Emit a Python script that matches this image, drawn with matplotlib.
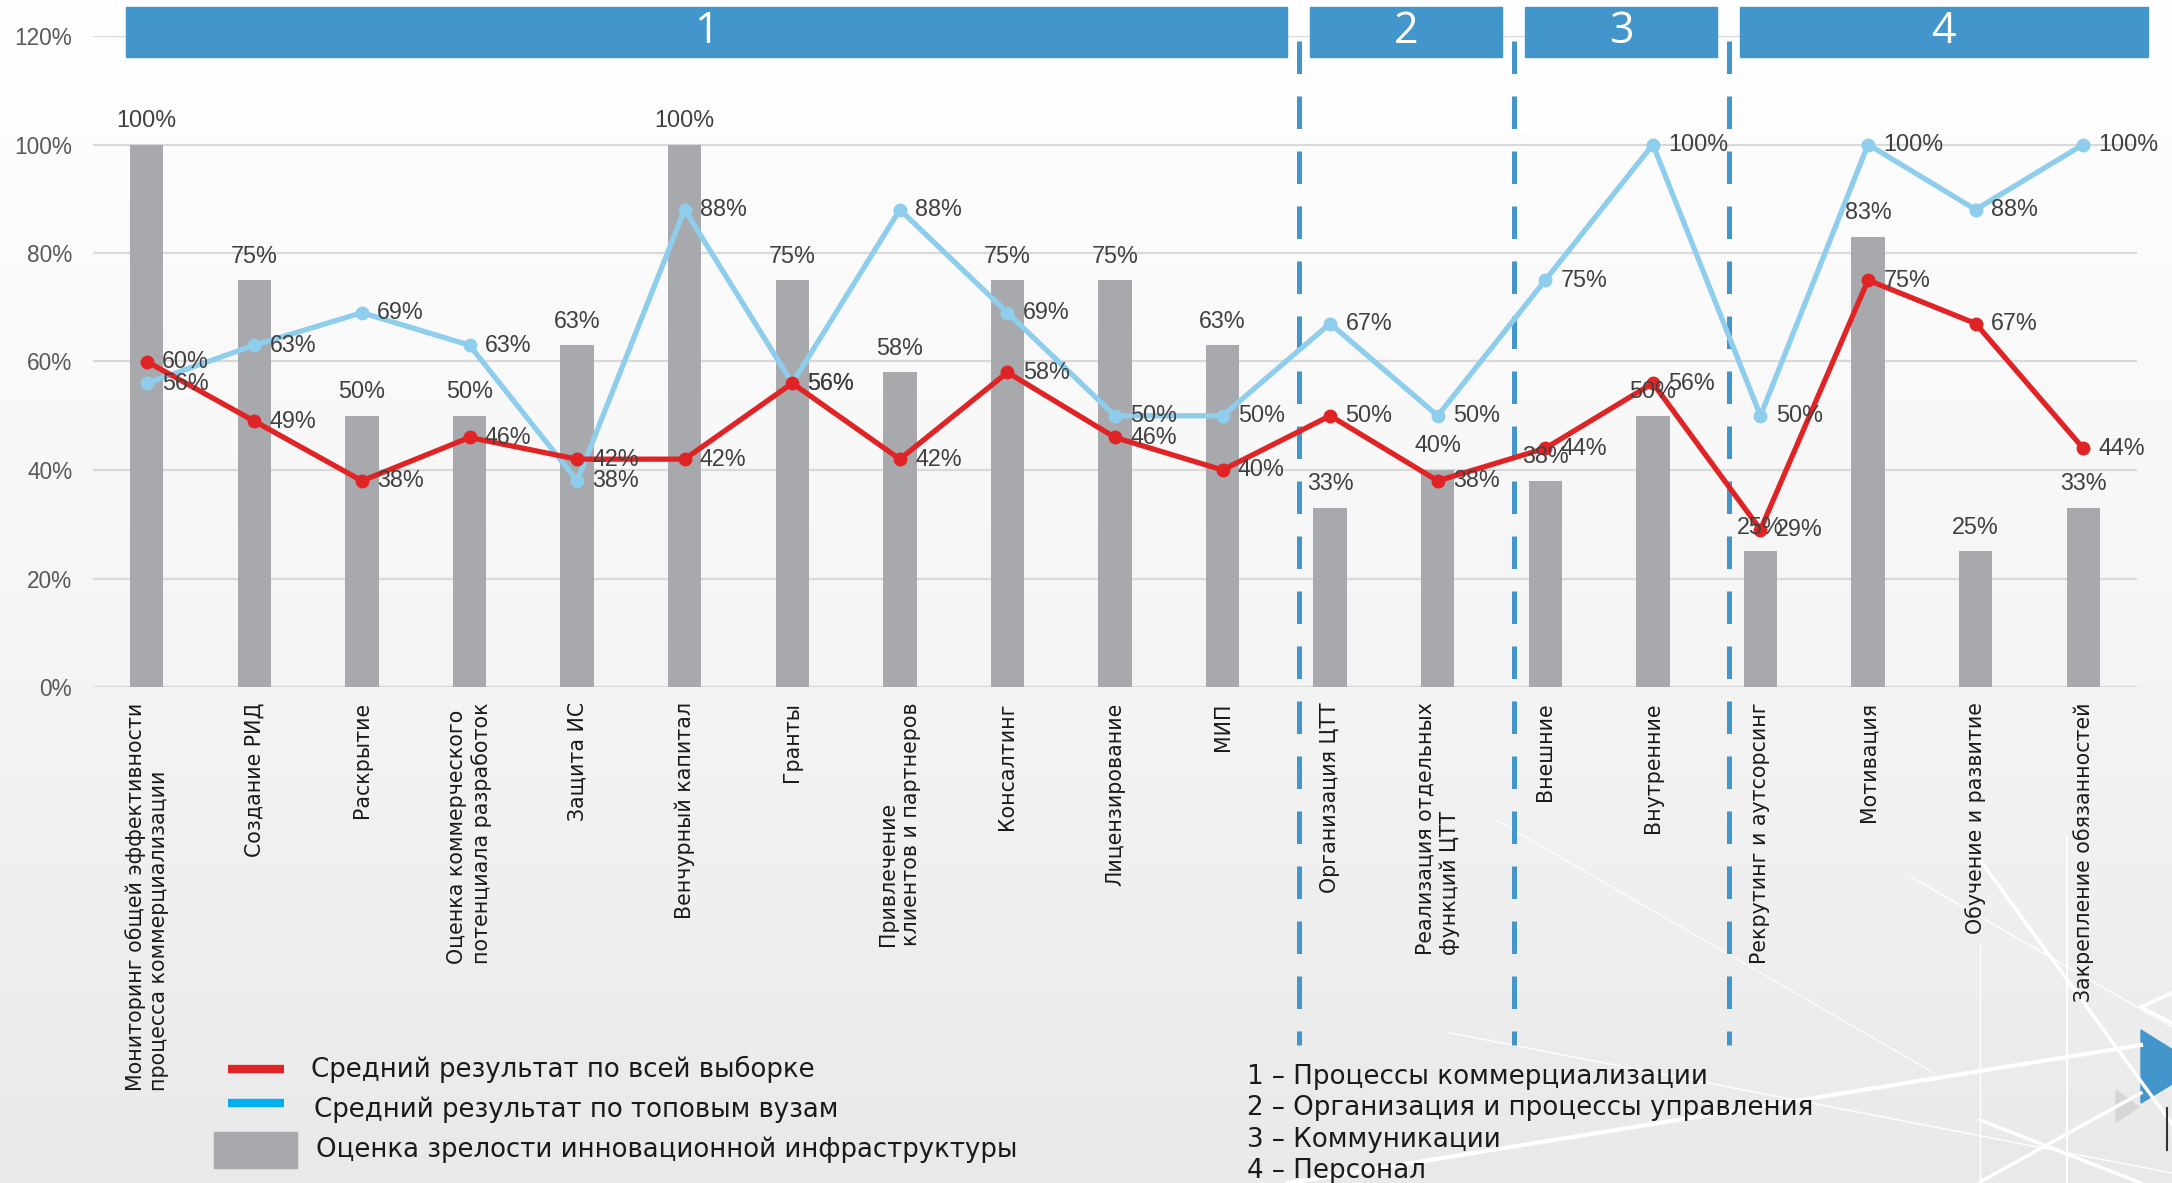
import numpy as np
import matplotlib.pyplot as plt
from matplotlib.colors import LinearSegmentedColormap
from matplotlib.lines import Line2D
from matplotlib.patches import Rectangle, Polygon

# Данные с графика
categories = [
    'Мониторинг общей эффективности\nпроцесса коммерциализации',
    'Создание РИД',
    'Раскрытие',
    'Оценка коммерческого\nпотенциала разработок',
    'Защита ИС',
    'Венчурный капитал',
    'Гранты',
    'Привлечение\nклиентов и партнеров',
    'Консалтинг',
    'Лицензирование',
    'МИП',
    'Организация ЦТТ',
    'Реализация отдельных\nфункций ЦТТ',
    'Внешние',
    'Внутренние',
    'Рекрутинг и аутсорсинг',
    'Мотивация',
    'Обучение и развитие',
    'Закрепление обязанностей',
]
infra = [1.00, 0.75, 0.50, 0.50, 0.63, 1.00, 0.75, 0.58, 0.75, 0.75,
         0.63, 0.33, 0.40, 0.38, 0.50, 0.25, 0.83, 0.25, 0.33]
avg_all = [0.60, 0.49, 0.38, 0.46, 0.42, 0.42, 0.56, 0.42, 0.58, 0.46,
           0.40, 0.50, 0.38, 0.44, 0.56, 0.29, 0.75, 0.67, 0.44]
avg_top = [0.56, 0.63, 0.69, 0.63, 0.38, 0.88, 0.56, 0.88, 0.69, 0.50,
           0.50, 0.67, 0.50, 0.75, 1.00, 0.50, 1.00, 0.88, 1.00]
group_sizes = [11, 2, 2, 4]
group_labels = ['1', '2', '3', '4']
group_names = ['1 – Процессы коммерциализации',
               '2 – Организация и процессы управления',
               '3 – Коммуникации',
               '4 – Персонал']
legend_names = ['Средний результат по всей выборке',
                'Средний результат по топовым вузам',
                'Оценка зрелости инновационной инфраструктуры']

RED = '#E02426'
LBLUE = '#8ECDEB'
GRAY = '#A7A9AD'
HEAD = '#4396CB'
TXT = '#404040'

W, H = 2172, 1183
fig = plt.figure(figsize=(W / 100, H / 100), dpi=100)


def px(x, y):
    return x / W, 1 - y / H


# фон с градиентом
bg = fig.add_axes([0, 0, 1, 1], zorder=-10)
cmap = LinearSegmentedColormap.from_list('bg', ['#FFFFFF', '#F6F6F6', '#E9E9E9'])
bg.imshow(np.linspace(0, 1, 256).reshape(-1, 1), aspect='auto', cmap=cmap,
          extent=[0, 1, 0, 1])
bg.set_xlim(0, 1)
bg.set_ylim(0, 1)
bg.axis('off')

# декоративные линии справа внизу
deco = [((1288, 1183), (2141, 1045), 3.0),
        ((1980, 860), (2172, 1124), 2.5),
        ((1911, 877), (2172, 1027), 1.0),
        ((1980, 943), (1980, 1183), 1.0),
        ((2067, 837), (2067, 1183), 1.5),
        ((1980, 1182), (2141, 1093), 2.5),
        ((1980, 1120), (2141, 1183), 2.5),
        ((1450, 1033), (2172, 1173), 1.0),
        ((1496, 820), (1934, 1073), 0.8),
        ((2141, 1007), (2172, 993), 2.5),
        ((2141, 1007), (2172, 1023), 2.5)]
for p0, p1, lw in deco:
    a, b = px(*p0), px(*p1)
    bg.add_line(Line2D([a[0], b[0]], [a[1], b[1]], color='white', lw=lw))
bg.add_patch(Polygon([px(2141, 1030), px(2141, 1103), px(2200, 1067)],
                     closed=True, color=HEAD))
bg.add_patch(Polygon([px(2116, 1090), px(2116, 1122), px(2139, 1107)],
                     closed=True, color='#D5D7D7'))
a, b = px(2167, 1108), px(2167, 1150)
bg.add_line(Line2D([a[0], b[0]], [a[1], b[1]], color='#333333', lw=1.5))

# основной график
ax = fig.add_axes([93 / W, 1 - 687 / H, 2044 / W, 651 / H])
ax.set_facecolor('none')
x = np.arange(len(categories))

ax.bar(x, infra, width=0.31, color=GRAY, zorder=2)
ax.plot(x, avg_top, color=LBLUE, lw=3.8, marker='o', ms=9, zorder=4)
ax.plot(x, avg_all, color=RED, lw=3.8, marker='o', ms=9, zorder=5)

lbl_font = dict(family=['Liberation Sans', 'DejaVu Sans'], fontsize=16.8, color=TXT)
for xi, v in zip(x, infra):
    ax.annotate(f'{v * 100:.0f}%', (xi, v), xytext=(0, 9), textcoords='offset points',
                ha='center', va='bottom', zorder=6, **lbl_font)
for series in (avg_all, avg_top):
    for xi, v in zip(x, series):
        ax.annotate(f'{v * 100:.0f}%', (xi, v), xytext=(11, 0), textcoords='offset points',
                    ha='left', va='center', zorder=6, **lbl_font)

ax.set_xlim(-0.5, len(categories) - 0.5)
ax.set_ylim(0, 1.2)
ax.set_yticks(np.arange(0, 1.21, 0.2))
ax.set_yticklabels([f'{t * 100:.0f}%' for t in np.arange(0, 1.21, 0.2)],
                   family=['Liberation Sans', 'DejaVu Sans'], fontsize=16.3, color='#595959')
ax.set_xticks(x)
ax.set_xticklabels(categories, rotation=90, va='top', ha='center', multialignment='left',
                   fontsize=14.8, color='#1A1A1A')
ax.tick_params(axis='both', length=0)
ax.tick_params(axis='y', pad=15)
ax.tick_params(axis='x', pad=11)
ax.grid(axis='y', color='#D9D9D9', lw=1.6, zorder=0)
ax.set_axisbelow(True)
for s in ax.spines.values():
    s.set_visible(False)

# блоки групп и пунктирные разделители
start = 0
for i, (n, g) in enumerate(zip(group_sizes, group_labels)):
    end = start + n - 1
    left, right = start - 0.19, end + 0.6
    ax.add_patch(Rectangle((left, 1.162), right - left, 0.092, color=HEAD,
                           clip_on=False, zorder=7))
    ax.text((left + right) / 2, 1.207, g, color='white', fontsize=31,
            family=['Open Sans', 'DejaVu Sans'], ha='center', va='center', zorder=8)
    if i < len(group_sizes) - 1:
        xd = end + 0.71
        ax.add_line(Line2D([xd, xd], [1.19, -0.66], color=HEAD, lw=3.6,
                           dashes=(6.5, 4.5), clip_on=False, zorder=3))
    start += n

# легенда слева
for (yy, col) in ((1069, RED), (1103, '#00B0F0')):
    a, b = px(228, yy), px(284, yy)
    bg.add_line(Line2D([a[0], b[0]], [a[1], b[1]], color=col, lw=6, solid_capstyle='butt'))
bg.add_patch(Rectangle(px(214, 1168), 83 / W, 36 / H, color=GRAY))
for (xx, yy), name in zip([(311, 1069), (314, 1110), (316, 1150)], legend_names):
    fig.text(*px(xx, yy), name, fontsize=18.7, color='#1A1A1A', ha='left', va='center')

# легенда групп справа
for yy, name in zip([1077, 1108, 1140, 1171], group_names):
    fig.text(*px(1247, yy), name, fontsize=18.8, color='#1A1A1A', ha='left', va='center')

fig.savefig('out.png', dpi=100)
